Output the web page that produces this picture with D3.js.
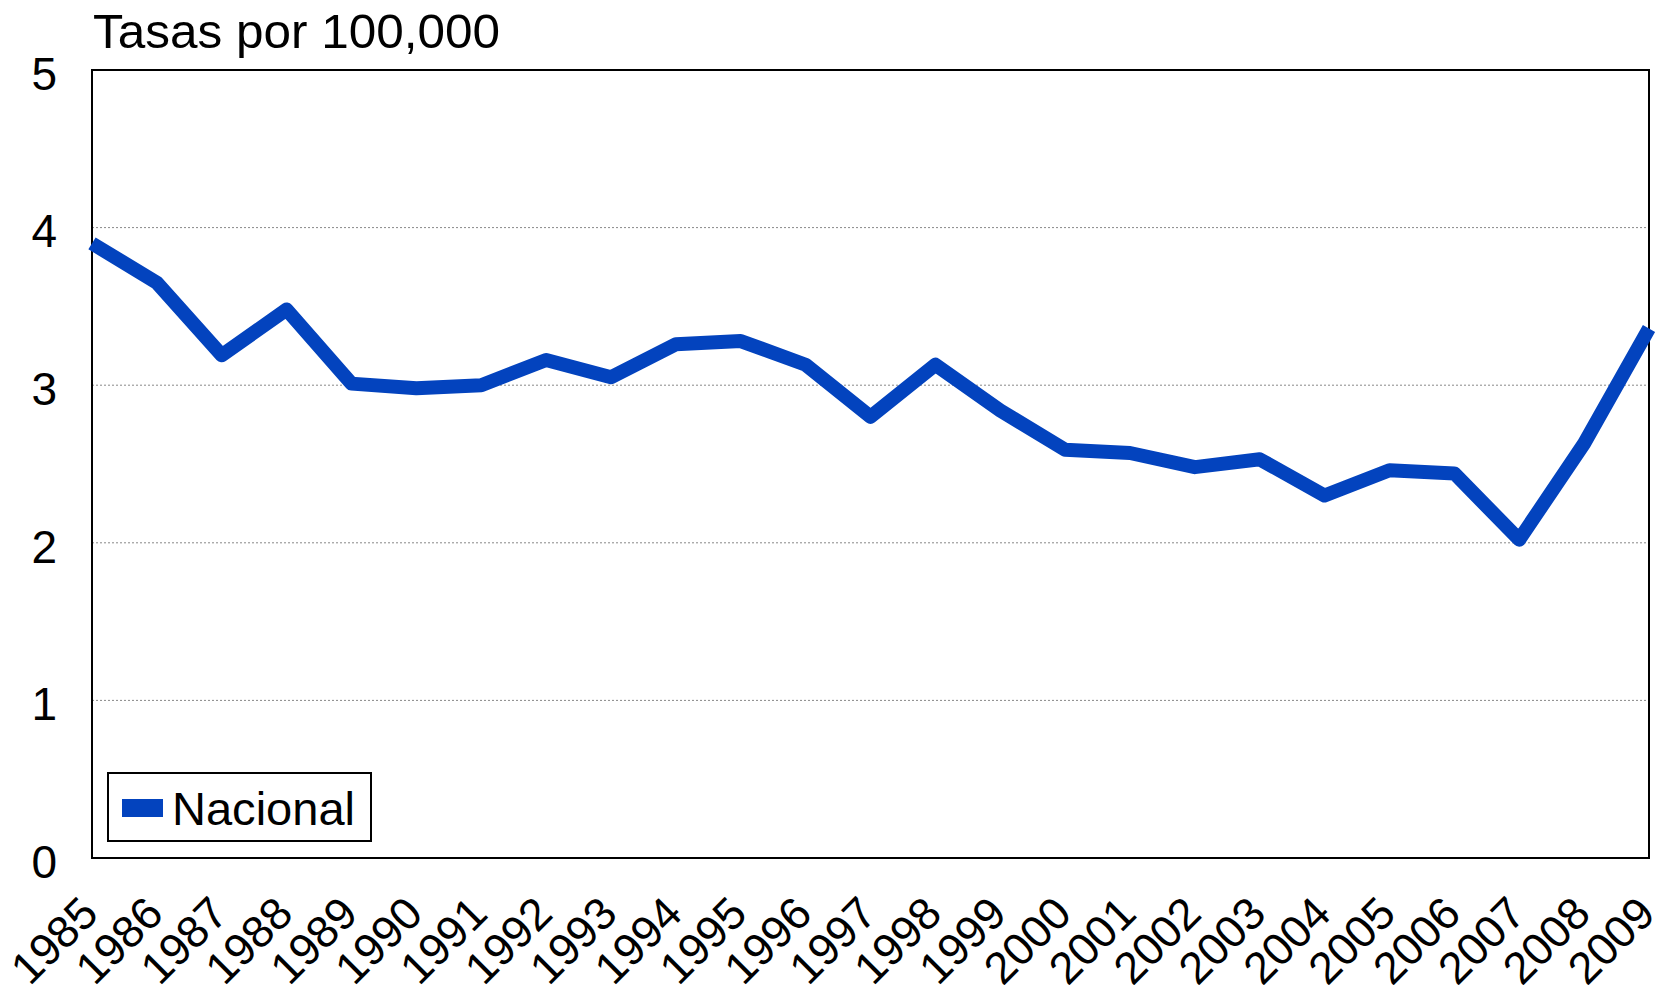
<!DOCTYPE html>
<html>
<head>
<meta charset="utf-8">
<script src="https://cdn.jsdelivr.net/npm/d3@7"></script>
<style>
  html, body { margin: 0; padding: 0; background: #fff; }
  svg { display: block; }
</style>
</head>
<body>
<svg id="chart"></svg>
<script>
// Data
const years = [1985, 1986, 1987, 1988, 1989, 1990, 1991, 1992, 1993, 1994, 1995, 1996,
  1997, 1998, 1999, 2000, 2001, 2002, 2003, 2004, 2005, 2006, 2007, 2008, 2009];
const nacional = [3.90, 3.65, 3.19, 3.48, 3.01, 2.98, 3.00, 3.16, 3.05, 3.26, 3.28, 3.13,
  2.80, 3.13, 2.84, 2.59, 2.57, 2.48, 2.53, 2.30, 2.46, 2.44, 2.02, 2.63, 3.36];
const yTicks = [0, 1, 2, 3, 4, 5];
const seriesName = "Nacional";
const yTitle = "Tasas por 100,000";

// Layout
const width = 1656;
const height = 985;
const margin = { top: 70, right: 7, bottom: 127, left: 92 };
const font = "'Liberation Sans', Arial, sans-serif";
const blue = "#0343be";

const svg = d3.select("#chart")
  .attr("width", width)
  .attr("height", height)
  .style("font-family", font);

const x = d3.scalePoint()
  .domain(years)
  .range([margin.left, width - margin.right]);

const y = d3.scaleLinear()
  .domain([0, 5])
  .range([height - margin.bottom, margin.top]);

// gridlines
svg.append("g")
  .selectAll("line")
  .data(yTicks.filter(d => d > 0 && d < 5))
  .join("line")
  .attr("x1", margin.left)
  .attr("x2", width - margin.right)
  .attr("y1", d => y(d))
  .attr("y2", d => y(d))
  .attr("stroke", "#888")
  .attr("stroke-width", 1)
  .attr("stroke-dasharray", "2,2");

// frame
svg.append("rect")
  .attr("x", margin.left)
  .attr("y", margin.top)
  .attr("width", width - margin.left - margin.right)
  .attr("height", height - margin.top - margin.bottom)
  .attr("fill", "none")
  .attr("stroke", "#000")
  .attr("stroke-width", 2);

// y axis labels
const yAxis = svg.append("g")
  .attr("transform", `translate(${margin.left},0)`)
  .call(d3.axisLeft(y).tickValues(yTicks).tickSize(0).tickPadding(35).tickFormat(d3.format("d")));
yAxis.select(".domain").remove();
yAxis.selectAll("text")
  .attr("font-size", 46)
  .attr("font-family", font)
  .attr("fill", "#000")
  .attr("dy", "0.42em");

// x axis labels, rotated, ending just right of each tick
const xAxis = svg.append("g")
  .attr("transform", `translate(0,${height - margin.bottom})`)
  .call(d3.axisBottom(x).tickSize(0).tickFormat(d3.format("d")));
xAxis.select(".domain").remove();
xAxis.selectAll("text")
  .attr("font-size", 45)
  .attr("font-family", font)
  .attr("fill", "#000")
  .attr("text-anchor", "end")
  .attr("y", 0)
  .attr("dy", 0)
  .attr("transform", "translate(8,58) rotate(-45)");

// series line
const line = d3.line()
  .x((d, i) => x(years[i]))
  .y(d => y(d));

svg.append("path")
  .datum(nacional)
  .attr("d", line)
  .attr("fill", "none")
  .attr("stroke", blue)
  .attr("stroke-width", 14)
  .attr("stroke-linejoin", "round")
  .attr("stroke-linecap", "butt");

// title
svg.append("text")
  .attr("x", 93)
  .attr("y", 48)
  .attr("font-size", 49)
  .attr("fill", "#000")
  .attr("textLength", 407)
  .attr("lengthAdjust", "spacingAndGlyphs")
  .text(yTitle);

// legend
const legend = svg.append("g");
legend.append("rect")
  .attr("x", 108)
  .attr("y", 773)
  .attr("width", 263)
  .attr("height", 68)
  .attr("fill", "#fff")
  .attr("stroke", "#000")
  .attr("stroke-width", 2);
legend.append("rect")
  .attr("x", 122)
  .attr("y", 799)
  .attr("width", 41)
  .attr("height", 18)
  .attr("fill", blue);
legend.append("text")
  .attr("x", 172)
  .attr("y", 825)
  .attr("font-size", 47)
  .attr("fill", "#000")
  .attr("textLength", 183)
  .attr("lengthAdjust", "spacingAndGlyphs")
  .text(seriesName);
</script>
</body>
</html>
